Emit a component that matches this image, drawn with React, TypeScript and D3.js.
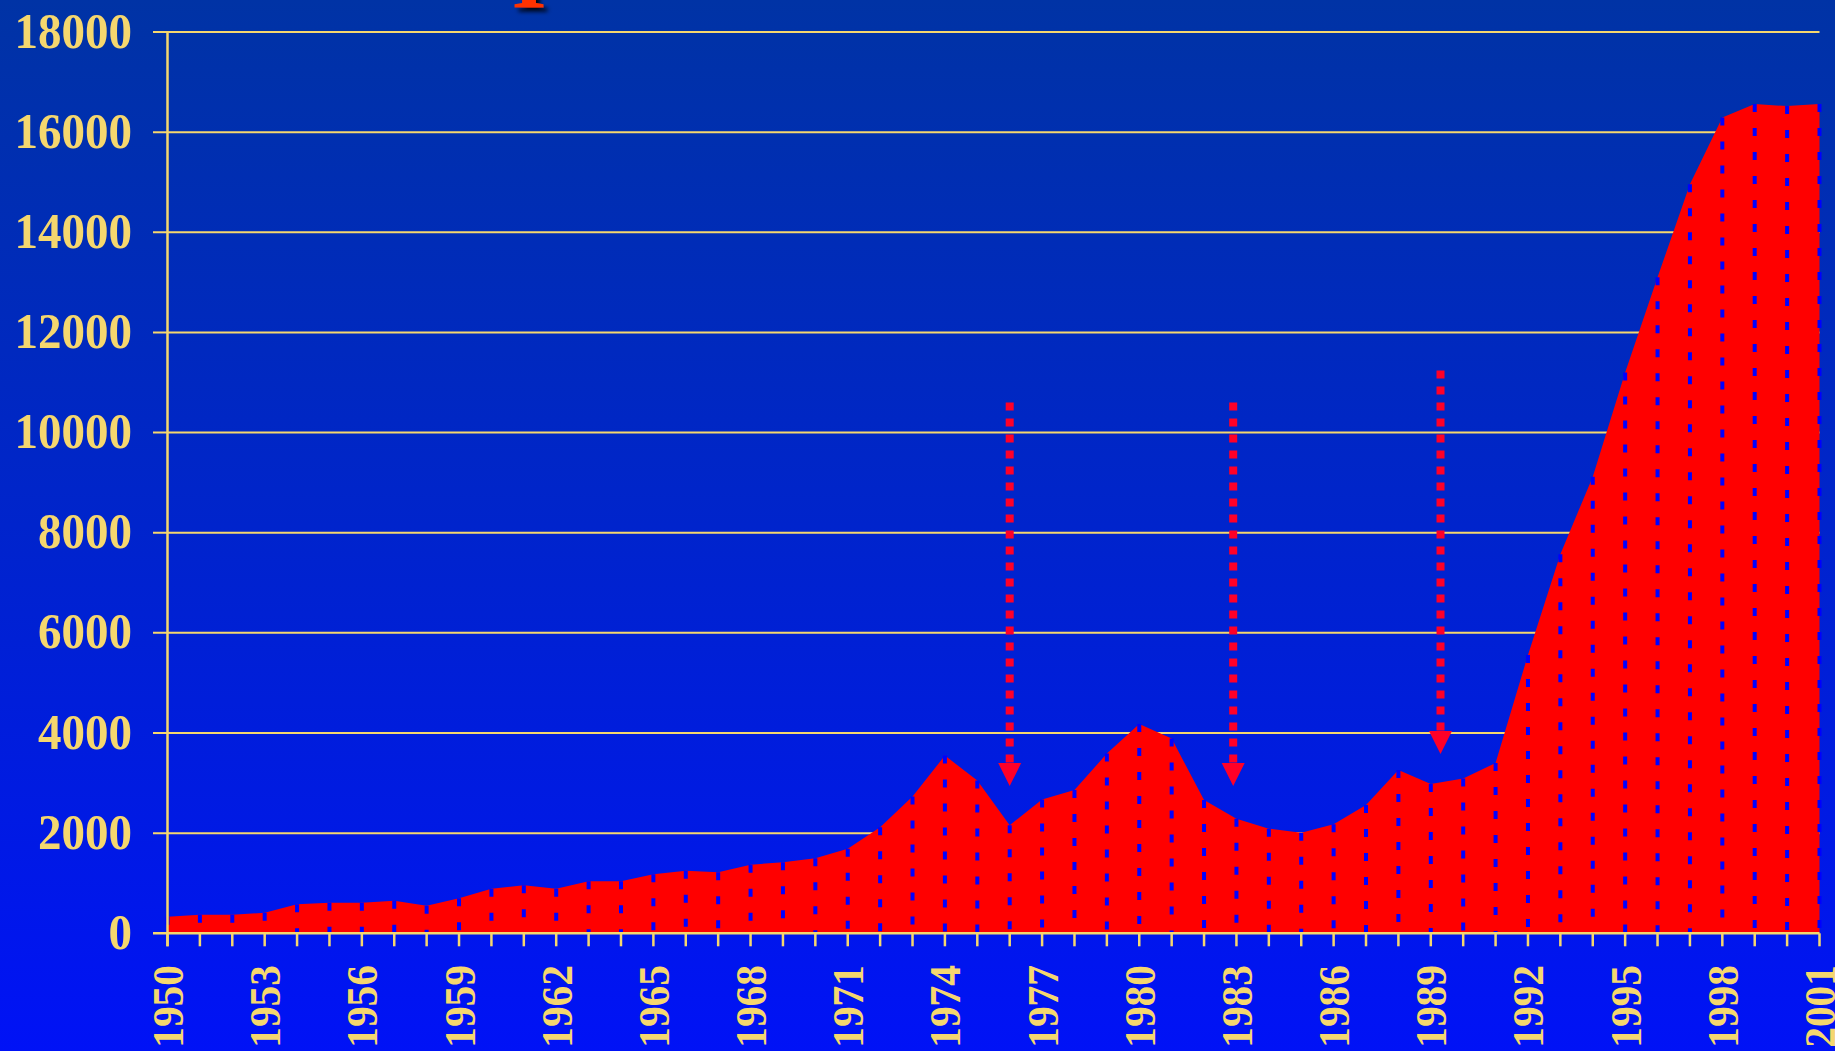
import React from "react";
import * as d3 from "d3";

const years: number[] = d3.range(1950, 2002);
const values: number[] = [
  330, 370, 370, 410, 580, 610, 610, 650, 550, 700,
  890, 960, 890, 1040, 1040, 1180, 1250, 1220, 1370, 1420,
  1500, 1690, 2120, 2730, 3550, 3050, 2160, 2670, 2860, 3590,
  4180, 3890, 2660, 2290, 2090, 2010, 2180, 2560, 3260, 2980,
  3090, 3400, 5560, 7570, 9120, 11200, 13100, 14960, 16290, 16560,
  16520, 16560,
];
const yTicks: number[] = [0, 2000, 4000, 6000, 8000, 10000, 12000, 14000, 16000, 18000];
const xLabelYears: number[] = d3.range(1950, 2002, 3);
const arrowYears: number[] = [1976, 1982.9, 1989.3];
const arrowFrom: number[] = [10600, 10600, 11240];
const arrowTo: number[] = [2940, 2940, 3580];

const W = 1835;
const H = 1051;
const YELLOW = "#F5D76E";

export default function App() {
  const x = d3.scaleLinear().domain([1950, 2001]).range([167.5, 1819.5]);
  const y = d3.scaleLinear().domain([0, 18000]).range([933.3, 32]);
  const data = years.map((yr, i) => ({ yr, v: values[i] }));
  const area = d3
    .area<{ yr: number; v: number }>()
    .x((d) => x(d.yr))
    .y0(y(0))
    .y1((d) => y(d.v))
    .curve(d3.curveLinear);

  return (
    <svg
      width={W}
      height={H}
      style={{ position: "fixed", left: 0, top: 0, display: "block" }}
      fontFamily="'Liberation Serif', 'Times New Roman', serif"
    >
      <defs>
        <linearGradient id="bg" x1="0" y1="0" x2="0" y2="1">
          <stop offset="0" stopColor="#0033A5" />
          <stop offset="0.5" stopColor="#0024CC" />
          <stop offset="1" stopColor="#0012F6" />
        </linearGradient>
        <filter id="shadow" x="-50%" y="-50%" width="200%" height="200%">
          <feDropShadow dx="4" dy="4" stdDeviation="2" floodColor="#000" floodOpacity="0.9" />
        </filter>
      </defs>
      <rect x={0} y={0} width={W} height={H} fill="url(#bg)" />

      {/* cut-off title fragment */}
      <text x={529} y={8} fontSize={90} fontWeight="bold" textAnchor="middle" fill="#FF3300" filter="url(#shadow)">I</text>

      {/* gridlines */}
      {yTicks.filter((t) => t > 0).map((t) => (
        <line key={t} x1={153} x2={x(2001)} y1={y(t)} y2={y(t)} stroke={YELLOW} strokeWidth={2} />
      ))}

      {/* area */}
      <path d={area(data) || ""} fill="#FF0000" />

      {/* drop lines */}
      {data.map((d) => (
        <line
          key={d.yr}
          x1={x(d.yr)}
          x2={x(d.yr)}
          y1={y(d.v)}
          y2={y(0)}
          stroke="#0000FF"
          strokeWidth={4}
          strokeDasharray="8,16"
        />
      ))}

      {/* axes */}
      <line x1={153} x2={x(2001)} y1={y(0)} y2={y(0)} stroke={YELLOW} strokeWidth={2.5} />
      <line x1={x(1950)} x2={x(1950)} y1={y(18000)} y2={y(0) + 13} stroke={YELLOW} strokeWidth={2.5} />
      {years.map((yr) => (
        <line key={yr} x1={x(yr)} x2={x(yr)} y1={y(0)} y2={y(0) + 13} stroke={YELLOW} strokeWidth={2.5} />
      ))}

      {/* y labels */}
      {yTicks.map((t) => (
        <text
          key={t}
          transform={`translate(132, ${y(t) + 15.5}) scale(0.94, 1)`}
          textAnchor="end"
          fontSize={50}
          fontWeight="bold"
          fill={YELLOW}
        >
          {t}
        </text>
      ))}

      {/* x labels */}
      {xLabelYears.map((yr) => (
        <text
          key={yr}
          transform={`translate(${x(yr) + 15.5}, 965) rotate(-90) scale(0.92, 1)`}
          textAnchor="end"
          fontSize={45}
          fontWeight="bold"
          fill={YELLOW}
        >
          {yr}
        </text>
      ))}

      {/* arrows */}
      {arrowYears.map((yr, i) => {
        const ax = x(yr);
        const top = y(arrowFrom[i]);
        const tip = y(arrowTo[i]);
        const headBase = tip - 23;
        return (
          <g key={i}>
            <line x1={ax} x2={ax} y1={top} y2={headBase} stroke="#FF0028" strokeWidth={8} strokeDasharray="8,8" />
            <path d={`M${ax - 11.5},${headBase} L${ax + 11.5},${headBase} L${ax},${tip} Z`} fill="#FF0028" />
          </g>
        );
      })}
    </svg>
  );
}
